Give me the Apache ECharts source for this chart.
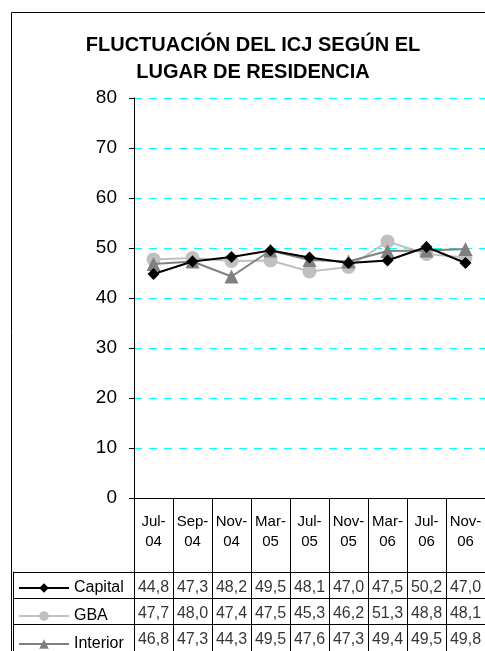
<!DOCTYPE html>
<html>
<head>
<meta charset="utf-8">
<script src="https://cdn.jsdelivr.net/npm/echarts@6/dist/echarts.min.js"></script>
<style>
  html, body { margin: 0; padding: 0; background: #fff; overflow: hidden; }
  #chart { width: 485px; height: 651px; }
</style>
</head>
<body>
<div id="chart"></div>
<script>
const months = ['Jul-\n04', 'Sep-\n04', 'Nov-\n04', 'Mar-\n05', 'Jul-\n05', 'Nov-\n05', 'Mar-\n06', 'Jul-\n06', 'Nov-\n06'];
const capital = [44.8, 47.3, 48.2, 49.5, 48.1, 47.0, 47.5, 50.2, 47.0];
const gba = [47.7, 48.0, 47.4, 47.5, 45.3, 46.2, 51.3, 48.8, 48.1];
const interior = [46.8, 47.3, 44.3, 49.5, 47.6, 47.3, 49.4, 49.5, 49.8];
const rowNames = ['Capital', 'GBA', 'Interior'];

const font = 'Liberation Sans, Arial, sans-serif';

// cells of the data table under the axis
const tableCells = [];
[capital, gba, interior].forEach(function (vals, r) {
  vals.forEach(function (v, i) {
    tableCells.push([i, r, v]);
  });
});

// one legend per table row so each key sits in its own row
const legendTops = [580, 608, 636];
const legends = rowNames.map(function (name, i) {
  return {
    data: [name],
    left: 18,
    top: legendTops[i],
    itemWidth: 50,
    itemHeight: 12,
    padding: 0,
    selectedMode: false,
    textStyle: { fontFamily: font, fontSize: 16, color: '#000', lineHeight: 14 }
  };
});

const chart = echarts.init(document.getElementById('chart'));

const option = {
  animation: false,
  backgroundColor: '#fff',
  title: {
    text: 'FLUCTUACIÓN DEL ICJ SEGÚN EL\nLUGAR DE RESIDENCIA',
    left: 253,
    top: 32,
    padding: 0,
    textAlign: 'center',
    textStyle: { fontFamily: font, fontSize: 20, fontWeight: 'bold', color: '#000', lineHeight: 27 }
  },
  graphic: [{
    type: 'rect',
    shape: { x: 11.5, y: 12.5, width: 700, height: 800 },
    style: { fill: 'none', stroke: '#000', lineWidth: 1 },
    silent: true
  }],
  legend: legends,
  grid: [
    { left: 134, top: 98, width: 360, height: 400 },
    { left: 13, top: 572, width: 700, height: 84 },
    { left: 134, top: 572, width: 360, height: 84 }
  ],
  xAxis: [
    {
      gridIndex: 0,
      type: 'category',
      data: months,
      boundaryGap: true,
      axisLine: { lineStyle: { color: '#000', width: 1 } },
      axisTick: { show: true, length: 170, lineStyle: { color: '#000' } },
      axisLabel: { fontFamily: font, fontSize: 15, color: '#000', lineHeight: 20, margin: 14, interval: 0 },
      splitLine: { show: false }
    },
    { gridIndex: 1, type: 'value', min: 0, max: 1, show: false },
    { gridIndex: 2, type: 'category', data: months, show: false }
  ],
  yAxis: [
    {
      gridIndex: 0,
      type: 'value',
      min: 0,
      max: 80,
      interval: 10,
      axisLine: { show: true, lineStyle: { color: '#000', width: 1 } },
      axisTick: { show: true, length: 5, lineStyle: { color: '#000' } },
      axisLabel: { fontFamily: font, fontSize: 19, color: '#000', margin: 17 },
      splitLine: { show: true, lineStyle: { color: '#00ffff', width: 1, type: [8, 7] } }
    },
    {
      gridIndex: 1,
      type: 'category',
      data: rowNames,
      inverse: true,
      axisLine: { show: true, lineStyle: { color: '#000' } },
      axisTick: { show: false },
      axisLabel: { show: false },
      splitLine: { show: true, lineStyle: { color: '#000', width: 1 } }
    },
    { gridIndex: 2, type: 'category', data: rowNames, inverse: true, show: false }
  ],
  series: [
    {
      name: 'Capital',
      type: 'line',
      data: capital,
      symbol: 'diamond',
      symbolSize: 12,
      lineStyle: { color: '#000', width: 2 },
      itemStyle: { color: '#000' },
      z: 4
    },
    {
      name: 'GBA',
      type: 'line',
      data: gba,
      symbol: 'circle',
      symbolSize: 14,
      lineStyle: { color: '#c0c0c0', width: 2 },
      itemStyle: { color: '#c0c0c0' },
      z: 2
    },
    {
      name: 'Interior',
      type: 'line',
      data: interior,
      symbol: 'triangle',
      symbolSize: 14,
      lineStyle: { color: '#808080', width: 2 },
      itemStyle: { color: '#808080' },
      z: 3
    },
    {
      name: 'tabla',
      type: 'scatter',
      xAxisIndex: 2,
      yAxisIndex: 2,
      data: tableCells,
      symbolSize: 1,
      itemStyle: { color: 'rgba(0,0,0,0)' },
      silent: true,
      label: {
        show: true,
        position: 'inside',
        offset: [0, 2],
        fontFamily: font,
        fontSize: 16,
        color: '#000',
        formatter: function (p) {
          return p.value[2].toFixed(1).replace('.', ',');
        }
      }
    }
  ]
};

chart.setOption(option);
</script>
</body>
</html>
